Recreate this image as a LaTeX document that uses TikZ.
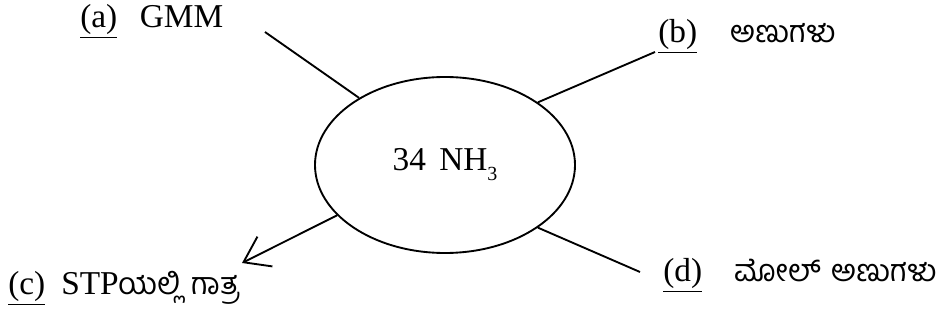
\documentclass[tikz,border=0pt]{standalone}
\usepackage{fontspec}
\setmainfont{Liberation Serif}
\newfontfamily\kn[Script=Kannada,Scale=0.92]{Hind Mysuru}
\usetikzlibrary{shapes.geometric,arrows.meta}

\begin{document}
\begin{tikzpicture}[x=0.75pt,y=-0.75pt,
    lbl/.style={anchor=base west, inner sep=0pt, font=\fontsize{25}{29}\selectfont},
    link/.style={line width=1.4pt}]
    \useasboundingbox (0,0) rectangle (946,320);

    %centre
    \node[draw, ellipse, line width=1.4pt, minimum width=195pt, minimum height=132pt,
          inner sep=0pt, font=\fontsize{25}{29}\selectfont] (nh3) at (445,165)
          {34\hspace{10pt}NH\raisebox{-0.3em}{\fontsize{15}{15}\selectfont 3}\hspace{8pt}};

    %labels
    \node[lbl] (gmm) at (80,28) {\underline{(a)}\hspace{17pt}GMM};
    \node[lbl] (anu) at (658,43) {\underline{(b)}\hspace{25pt}{\kn ಅಣುಗಳು}};
    \node[lbl] (vol) at (8,295) {\underline{(c)}\hspace{12pt}STP{\kn ಯಲ್ಲಿ\hspace{8pt}ಗಾತ್ರ}};
    \node[lbl] (mol) at (663,282) {\underline{(d)}\hspace{24pt}{\kn ಮೋಲ್\hspace{8pt}ಅಣುಗಳು}};

    %free ends
    \coordinate (gmmend) at (265,32);
    \coordinate (anuend) at (655,52);
    \coordinate (volend) at (242,263);
    \coordinate (molend) at (640,272);

    %connectors
    \draw[link] (gmmend) -- (nh3.142);
    \draw[link] (nh3.34) -- (anuend);
    \draw[link, -{Straight Barb[length=18pt,width=25pt]}] (nh3.205) -- (volend);
    \draw[link] (nh3.326) -- (molend);

\end{tikzpicture}
\end{document}
